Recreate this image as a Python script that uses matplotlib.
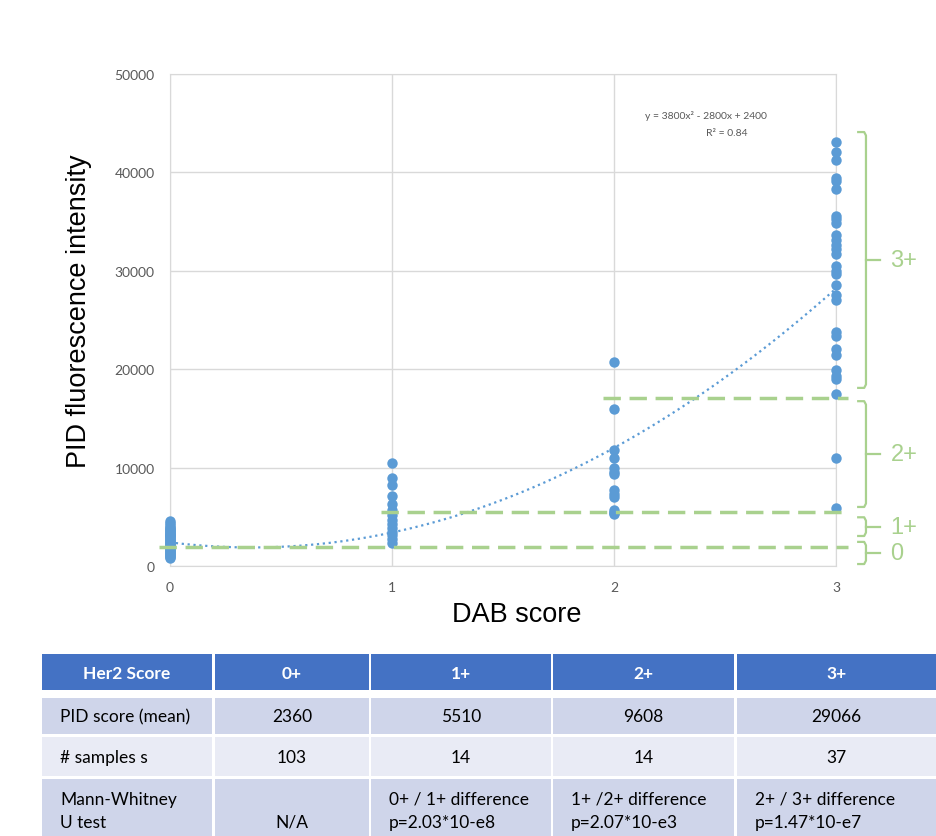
import numpy as np
import matplotlib.pyplot as plt
from matplotlib.patches import Rectangle

# scatter data: DAB score vs PID fluorescence intensity
pid_0 = [800, 900, 1000, 1100, 1200, 1300, 1400, 1500, 1600, 1700, 1800, 1900,
         2000, 2100, 2200, 2300, 2400, 2500, 2600, 2700, 2800, 2900, 3000, 3100,
         3200, 3300, 3400, 3500, 3600, 3700, 3800, 3900, 4000, 4200, 4400, 4600]
pid_1 = [10500, 8900, 8200, 7100, 6300, 5700, 5200, 4700, 4300, 3900, 3500,
         3100, 2700, 2300]
pid_2 = [20700, 16000, 11800, 11000, 10000, 9600, 9300, 7700, 7300, 7000,
         5700, 5500, 5400, 5300]
pid_3 = [43100, 42100, 41300, 39400, 39100, 38300, 35600, 35300, 34900, 33600,
         33100, 32600, 32200, 31700, 30500, 30000, 29700, 28600, 27500, 27000,
         23800, 23400, 22100, 21400, 19900, 19300, 19000, 17500, 11000, 5900]
pid_by_score = [pid_0, pid_1, pid_2, pid_3]

trend_coef = [3800, -2800, 2400]
r_squared = 0.84

thresholds = [1900, 5450, 17100]
threshold_start = [-0.05, 0.95, 1.95]

brace_labels = ['0', '1+', '2+', '3+']
brace_ranges = [(200, 2450), (3050, 4950), (6000, 16750), (18100, 44100)]

# table
table_header = ['Her2 Score', '0+', '1+', '2+', '3+']
pid_mean = ['2360', '5510', '9608', '29066']
n_samples = ['103', '14', '14', '37']
mw_test = [('', 'N/A'), ('0+ / 1+ difference', 'p=2.03*10-e8'),
           ('1+ /2+ difference', 'p=2.07*10-e3'), ('2+ / 3+ difference', 'p=1.47*10-e7')]

blue = '#5B9BD5'
green = '#A9D18E'
grid_c = '#D9D9D9'
text_c = '#595959'

W, H = 936, 837
fig = plt.figure(figsize=(W / 100, H / 100), dpi=100)
ax = fig.add_axes([170 / W, (H - 567) / H, (836 - 170) / W, (567 - 75) / H])

for score, vals in enumerate(pid_by_score):
    ax.plot([score] * len(vals), vals, 'o', color=blue, markersize=7.5,
            markeredgewidth=0, clip_on=False, zorder=4)

xs = np.linspace(0, 3, 200)
ax.plot(xs, np.polyval(trend_coef, xs), ':', color=blue, linewidth=1.6, zorder=3)

for t, x0 in zip(thresholds, threshold_start):
    ax.plot([x0, 3.055], [t, t], color=green, linewidth=2.5, dashes=(5, 2.5),
            clip_on=False, zorder=5)

# braces on the right
for lab, (lo, hi) in zip(brace_labels, brace_ranges):
    xl, xr, xt = 3.1, 3.135, 3.2
    r = 350
    ax.plot([xl, xr - 0.008, xr, xr, xr - 0.008, xl],
            [hi, hi, hi - r, lo + r, lo, lo],
            color=green, linewidth=1.6, clip_on=False, solid_joinstyle='round')
    mid = (lo + hi) / 2
    ax.plot([xr, xt], [mid, mid], color=green, linewidth=1.6, clip_on=False)
    ax.text(xt + 0.045, mid, lab, color=green, fontsize=17, va='center', ha='left',
            family='Liberation Sans')

ax.text(2.415, 45800, 'y = %dx² - %dx + %d' % (trend_coef[0], -trend_coef[1], trend_coef[2]),
        ha='center', va='center', fontsize=7.5, color=text_c, family='Lato')
ax.text(2.51, 44100, 'R² = %.2f' % r_squared, ha='center', va='center',
        fontsize=7.5, color=text_c, family='Lato')

ax.set_xlim(0, 3)
ax.set_ylim(0, 50000)
ax.set_xticks([0, 1, 2, 3])
ax.set_yticks(range(0, 50001, 10000))
ax.grid(True, color=grid_c, linewidth=1)
ax.set_axisbelow(True)
for s in ax.spines.values():
    s.set_color(grid_c)
ax.tick_params(length=0, labelsize=10, labelcolor=text_c)
ax.tick_params(axis='y', pad=11)
ax.tick_params(axis='x', pad=10.5)
for lbl in ax.get_xticklabels() + ax.get_yticklabels():
    lbl.set_family('Lato')

fig.text(517 / W, 1 - 615 / H, 'DAB score', fontsize=19.5, family='Liberation Sans',
         ha='center', va='center')
fig.text(79 / W, 1 - 311 / H, 'PID fluorescence intensity', fontsize=19.5,
         family='Liberation Sans', rotation=90, ha='center', va='center')

# table drawn in pixel coordinates on an overlay axes
tab = fig.add_axes([0, 0, 1, 1])
tab.set_xlim(0, W)
tab.set_ylim(H, 0)
tab.axis('off')

col_edges = [(42, 212), (215, 369), (371, 551), (553, 734), (737, 936)]
row_edges = [(655, 691), (699, 735), (738, 777), (780, 837)]
row_colors = ['#4472C4', '#CFD5EA', '#E9EBF5', '#CFD5EA']

for (y0, y1), c in zip(row_edges, row_colors):
    for x0, x1 in col_edges:
        tab.add_patch(Rectangle((x0, y0), x1 - x0, y1 - y0, color=c, lw=0))

tf = dict(family='Lato', fontsize=12.5, va='center')
for (x0, x1), h in zip(col_edges, table_header):
    tab.text((x0 + x1) / 2, 674, h, color='white', weight='bold', ha='center', **tf)

tab.text(60, 717, 'PID score (mean)', color='black', ha='left', **tf)
tab.text(60, 758, '# samples s', color='black', ha='left', **tf)
tab.text(60, 800, 'Mann-Whitney', color='black', ha='left', **tf)
tab.text(60, 823, 'U test', color='black', ha='left', **tf)
for (x0, x1), m, n in zip(col_edges[1:], pid_mean, n_samples):
    tab.text((x0 + x1) / 2, 717, m, ha='center', **tf)
    tab.text((x0 + x1) / 2, 758, n, ha='center', **tf)
for i, ((x0, x1), (l1, l2)) in enumerate(zip(col_edges[1:], mw_test)):
    if i == 0:
        tab.text((x0 + x1) / 2, 823, l2, ha='center', **tf)
    else:
        tab.text(x0 + 18, 800, l1, ha='left', **tf)
        tab.text(x0 + 18, 823, l2, ha='left', **tf)

fig.savefig('out.png', dpi=100, facecolor='white')
